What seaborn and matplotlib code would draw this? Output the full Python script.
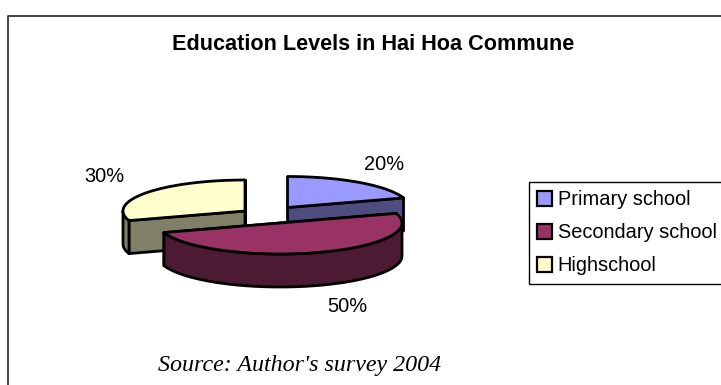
import numpy as np
import matplotlib
matplotlib.use("Agg")
import matplotlib.pyplot as plt
from matplotlib.patches import Polygon, Patch
import seaborn as sns

title = "Education Levels in Hai Hoa Commune"
source = "Source: Author's survey 2004"
categories = ["Primary school", "Secondary school", "Highschool"]
shares = [20, 50, 30]
top_hex = ["#9999FF", "#993366", "#FFFFCC"]
side_hex = ["#4D4D80", "#4D1A33", "#808066"]

sns.set_theme(style="white")
plt.rcParams["font.family"] = ["Liberation Sans", "DejaVu Sans"]
top_colors = sns.color_palette(top_hex)
side_colors = sns.color_palette(side_hex)

W, H = 721, 385
fig, ax = plt.subplots(figsize=(W / 100, H / 100), dpi=100)
ax.set_position([0, 0, 1, 1])
ax.set_xlim(0, W)
ax.set_ylim(H, 0)
ax.axis("off")

# layout of the exploded 3-D pie, in pixels
apex = [(287.5, 207.5), (280, 223), (245, 211)]
RX, RY, DEPTH = 122, 31, 33
LW = 2.0
label_pos = [(384, 164), (347, 307), (104, 177)]

edges = np.cumsum([0] + shares) / sum(shares) * 2 * np.pi


def arc(i, a0, a1, dy=0.0):
    t = np.linspace(a0, a1, 80)
    return np.column_stack([apex[i][0] + RX * np.sin(t),
                            apex[i][1] - RY * np.cos(t) + dy])


def draw_slice(i):
    a0, a1 = edges[i], edges[i + 1]
    cx, cy = apex[i]
    # cut faces
    for a in (a0, a1):
        p = arc(i, a, a, 0)[0]
        ax.add_patch(Polygon([(cx, cy), p, (p[0], p[1] + DEPTH), (cx, cy + DEPTH)],
                             fc=side_colors[i], ec="black", lw=LW, joinstyle="round"))
    # outer rim: only the part that faces the viewer
    v0, v1 = max(a0, np.pi / 2), min(a1, 3 * np.pi / 2)
    if v1 > v0:
        rim_top = arc(i, v0, v1)
        rim_bot = arc(i, v0, v1, DEPTH)
        ax.add_patch(Polygon(np.vstack([rim_top, rim_bot[::-1]]),
                             fc=side_colors[i], ec="black", lw=LW, joinstyle="round"))
    # top face
    ax.add_patch(Polygon(np.vstack([[(cx, cy)], arc(i, a0, a1)]),
                         fc=top_colors[i], ec="black", lw=LW, joinstyle="round"))


for i in (0, 2, 1):
    draw_slice(i)

for share, (x, y) in zip(shares, label_pos):
    ax.text(x, y, f"{share}%", ha="center", va="center", fontsize=14.4, color="black")

ax.text(373.5, 44, title, ha="center", va="center", fontsize=15.6, fontweight="bold", color="black")
ax.text(299.5, 366, source, ha="center", va="center", fontsize=17.3,
        family=["Liberation Serif"], style="italic", color="black")

# chart area border: top and left only reach the image
ax.plot([7.5, 7.5, W], [H, 15.5, 15.5], color="#333333", lw=1.3, clip_on=False)

handles = [Patch(fc=c, ec="black", lw=1.6) for c in top_colors]
leg = ax.legend(handles, categories, loc="upper left", bbox_to_anchor=(529, 182),
                bbox_transform=ax.transData, fontsize=14.4, frameon=True, fancybox=False,
                framealpha=1, edgecolor="black", borderaxespad=0, borderpad=0.42,
                labelspacing=0.7, handlelength=0.72, handleheight=0.72, handletextpad=0.3,
                labelcolor="black")
leg.get_frame().set_linewidth(1.0)

fig.savefig("out.png", dpi=100, facecolor="white")
